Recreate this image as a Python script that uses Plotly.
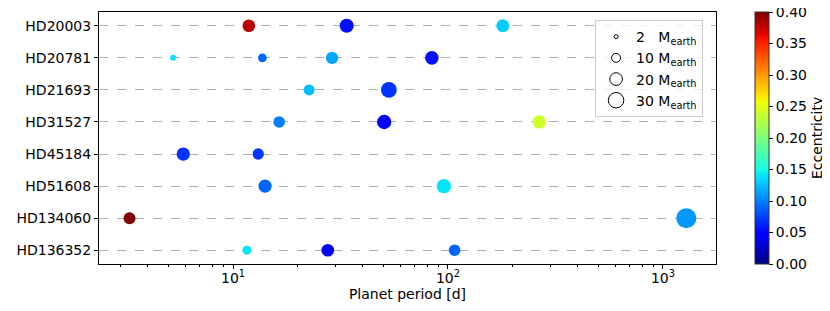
import numpy as np
import plotly.graph_objects as go

# ---------------- data ----------------
stars = ["HD20003", "HD20781", "HD21693", "HD31527", "HD45184",
         "HD51608", "HD134060", "HD136352"]

planet_star = ["HD20003", "HD20003", "HD20003",
               "HD20781", "HD20781", "HD20781", "HD20781",
               "HD21693", "HD21693",
               "HD31527", "HD31527", "HD31527",
               "HD45184", "HD45184",
               "HD51608", "HD51608",
               "HD134060", "HD134060",
               "HD136352", "HD136352", "HD136352"]
planet_period = [11.85, 33.8, 180.0,
                 5.27, 13.7, 28.9, 84.2,
                 22.6, 53.1,
                 16.4, 50.5, 266.0,
                 5.87, 13.1,
                 14.1, 95.7,
                 3.3, 1285.0,
                 11.6, 27.6, 107.4]
planet_mass = [20, 25, 21,
               4.5, 9.4, 19, 23,
               15, 31,
               17, 25.6, 22,
               22, 16,
               22, 25.6,
               18, 50,
               10, 20, 17]
planet_ecc = [0.38, 0.055, 0.13,
              0.14, 0.09, 0.115, 0.055,
              0.125, 0.07,
              0.10, 0.045, 0.24,
              0.07, 0.07,
              0.09, 0.14,
              0.40, 0.11,
              0.14, 0.04, 0.09]

legend_masses = [2, 10, 20, 30]
legend_labels = ["2\u00a0\u00a0\u00a0M<sub>earth</sub>", "10 M<sub>earth</sub>",
                 "20 M<sub>earth</sub>", "30 M<sub>earth</sub>"]

xtick_vals = [10, 100, 1000]
xtick_text = ["10<sup>1</sup>", "10<sup>2</sup>", "10<sup>3</sup>"]
cbar_ticks = [0.0, 0.05, 0.10, 0.15, 0.20, 0.25, 0.30, 0.35, 0.40]

# ---------------- style ----------------
SIZE_K = 2.83  # px diameter per sqrt(M_earth)
X_MIN, X_MAX = 2.38, 1766
E_MIN, E_MAX = 0.0, 0.4

# matplotlib "jet" colormap
jet_seg = {
    "r": [(0, 0), (0.35, 0), (0.66, 1), (0.89, 1), (1, 0.5)],
    "g": [(0, 0), (0.125, 0), (0.375, 1), (0.64, 1), (0.91, 0), (1, 0)],
    "b": [(0, 0.5), (0.11, 1), (0.34, 1), (0.65, 0), (1, 0)],
}
stops = sorted(set([p for c in jet_seg.values() for p, _ in c]))


def chan(c, t):
    xs = [p for p, _ in jet_seg[c]]
    ys = [v for _, v in jet_seg[c]]
    return float(np.interp(t, xs, ys))


jet = [[t, "rgb(%d,%d,%d)" % tuple(round(255 * chan(c, t)) for c in "rgb")] for t in stops]

# log minor ticks (2..9 x 10^k) inside the axis range
minor_vals = [m * 10 ** k for k in range(0, 4) for m in range(2, 10)
              if X_MIN <= m * 10 ** k <= X_MAX]

FONT = "DejaVu Sans"

fig = go.Figure()

fig.add_trace(go.Scatter(
    x=planet_period, y=planet_star, mode="markers", showlegend=False,
    marker=dict(size=[SIZE_K * np.sqrt(m) for m in planet_mass],
                color=planet_ecc, colorscale=jet, cmin=E_MIN, cmax=E_MAX,
                line=dict(width=0), opacity=1,
                colorbar=dict(
                    x=1.0632, xanchor="left", xpad=0, ypad=0,
                    y=0.5, yanchor="middle", len=1, lenmode="fraction",
                    thickness=14, thicknessmode="pixels",
                    outlinewidth=1, outlinecolor="#333333",
                    tickmode="array",
                    tickvals=cbar_ticks, ticktext=["%.2f" % v for v in cbar_ticks],
                    ticklabeloverflow="allow",
                    ticks="outside", ticklen=4, tickcolor="black",
                    tickfont=dict(family=FONT, size=14, color="black"),
                )),
    hoverinfo="x+y",
))

for m, lab in zip(legend_masses, legend_labels):
    fig.add_trace(go.Scatter(
        x=[None], y=[None], mode="markers", name=lab, showlegend=True,
        marker=dict(symbol="circle-open", size=SIZE_K * np.sqrt(m),
                    color="black", line=dict(width=1, color="black")),
    ))

# page body has an 8px margin: figure is 822x303 so it ends at the window edge
fig.update_layout(
    width=822, height=303,
    margin=dict(l=91, r=114, t=4, b=47, autoexpand=False),
    paper_bgcolor="white", plot_bgcolor="white",
    font=dict(family=FONT, size=14, color="black"),
    legend=dict(x=0.804, xanchor="left", y=0.968, yanchor="top",
                bgcolor="rgba(255,255,255,0.8)", bordercolor="#cccccc",
                borderwidth=1, font=dict(family=FONT, size=14, color="black"),
                itemsizing="trace", tracegroupgap=0),
    annotations=[dict(text="Eccentricity", textangle=-90, xref="paper", yref="paper",
                      x=1.1637, y=0.5, xanchor="center", yanchor="middle",
                      showarrow=False, font=dict(family=FONT, size=14, color="black"))],
)

fig.update_xaxes(
    type="log", range=[np.log10(X_MIN), np.log10(X_MAX)], automargin=False,
    tickvals=xtick_vals, ticktext=xtick_text,
    ticks="outside", ticklen=4, tickcolor="black",
    showgrid=False, zeroline=False,
    showline=True, linecolor="black", linewidth=1, mirror=True,
    minor=dict(tickvals=minor_vals, ticks="outside", ticklen=2,
               tickcolor="black", showgrid=False),
    title=dict(text="Planet period [d]", font=dict(family=FONT, size=14), standoff=4),
    tickfont=dict(family=FONT, size=14),
    ticklabelstandoff=-3,
)
fig.update_yaxes(
    type="category", categoryorder="array", categoryarray=stars, automargin=False,
    range=[len(stars) - 0.57, -0.43],
    ticks="outside", ticklen=4, tickcolor="black",
    showgrid=True, gridcolor="#b0b0b0", griddash="dash", gridwidth=1,
    zeroline=False,
    showline=True, linecolor="black", linewidth=1, mirror=True,
    tickfont=dict(family=FONT, size=14),
)

fig.write_html("out.html")
